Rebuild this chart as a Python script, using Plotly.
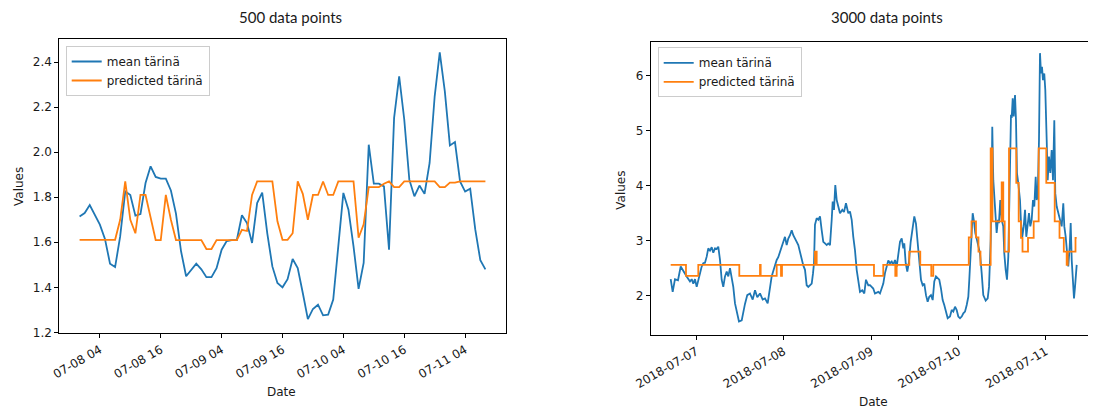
import pandas as pd
import plotly.graph_objects as go

# ---------------- data: left panel (hourly, 500 data points resampled) ----------------
left_start = "2018-07-08 00:00"
left_mean = [1.715, 1.73, 1.765, 1.72, 1.678, 1.615, 1.505, 1.49, 1.626, 1.826,
             1.81, 1.718, 1.725, 1.863, 1.937, 1.89, 1.883, 1.883, 1.83, 1.727,
             1.56, 1.449, 1.475, 1.505, 1.48, 1.445, 1.445, 1.485, 1.567, 1.605,
             1.61, 1.61, 1.72, 1.685, 1.597, 1.774, 1.82, 1.64, 1.493, 1.419,
             1.40, 1.436, 1.526, 1.486, 1.375, 1.259, 1.304, 1.323, 1.276, 1.279,
             1.346, 1.582, 1.819, 1.745, 1.582, 1.393, 1.508, 2.033, 1.86, 1.86,
             1.848, 1.567, 2.152, 2.336, 2.145, 1.878, 1.804, 1.852, 1.815, 1.952,
             2.248, 2.443, 2.27, 2.03, 2.045, 1.87, 1.825, 1.838, 1.657, 1.52, 1.48]
left_pred = [1.611, 1.611, 1.611, 1.611, 1.611, 1.611, 1.611, 1.611, 1.70, 1.87,
             1.70, 1.64, 1.81, 1.81, 1.71, 1.61, 1.61, 1.81, 1.70, 1.61,
             1.61, 1.61, 1.61, 1.61, 1.61, 1.57, 1.57, 1.61, 1.61, 1.61,
             1.61, 1.61, 1.655, 1.65, 1.81, 1.87, 1.87, 1.87, 1.87, 1.693,
             1.611, 1.611, 1.64, 1.87, 1.815, 1.70, 1.81, 1.81, 1.87, 1.81,
             1.81, 1.87, 1.87, 1.87, 1.87, 1.62, 1.68, 1.845, 1.845, 1.845,
             1.86, 1.87, 1.845, 1.845, 1.87, 1.87, 1.87, 1.87, 1.87, 1.87,
             1.87, 1.845, 1.845, 1.865, 1.865, 1.87, 1.87, 1.87, 1.87, 1.87, 1.87]
left_ticks = pd.date_range("2018-07-08 04:00", "2018-07-11 04:00", freq="12h")

# ---------------- data: right panel (3000 data points) ----------------
right_origin = "2018-07-07 00:00"
right_mean_hours = [
    -7.03, -6.48, -5.85, -5.02, -4.28, -3.65, -2.64, -1.73, -1.26, -0.82, -0.36, 0.11,
    0.55, 1.02, 1.48, 1.92, 2.39, 2.86, 3.29, 3.76, 4.23, 4.67, 5.13, 5.60, 6.04, 6.51,
    6.97, 7.41, 7.88, 8.35, 8.79, 9.25, 9.72, 10.16, 10.63, 11.26, 11.72, 12.47, 12.90,
    13.37, 14.00, 14.74, 15.49, 16.12, 16.75, 17.49, 18.23, 18.86, 19.60, 20.24, 20.70,
    21.14, 21.61, 22.08, 22.51, 22.98, 23.45, 23.89, 24.35, 24.82, 25.26, 25.73, 26.20,
    26.63, 27.10, 27.57, 28.01, 28.47, 28.94, 29.38, 29.85, 30.31, 30.75, 31.22, 31.69,
    32.04, 32.32, 32.59, 33.06, 33.50, 33.97, 34.43, 34.87, 35.34, 35.81, 36.24, 36.71,
    37.18, 37.45, 37.81, 38.17, 38.55, 38.99, 39.46, 40.09, 40.55, 41.10, 41.73, 42.20,
    42.67, 43.11, 43.57, 44.04, 44.48, 44.95, 45.58, 46.13, 46.59, 47.23, 47.69, 48.15,
    48.59, 49.06, 49.53, 49.97, 50.44, 50.91, 51.35, 51.81, 52.28, 52.72, 53.19, 53.66,
    54.09, 54.56, 55.03, 55.46, 55.93, 56.40, 56.84, 57.11, 57.50, 57.94, 58.40, 58.87,
    59.31, 59.86, 60.32, 60.79, 61.23, 61.70, 62.16, 62.60, 63.07, 63.53, 63.97, 64.44,
    64.91, 65.35, 65.81, 66.28, 66.72, 67.19, 67.65, 68.09, 68.56, 69.03, 69.66, 70.13,
    70.57, 71.04, 71.50, 71.94, 72.41, 72.88, 73.32, 73.78, 74.25, 74.69, 74.96, 75.34,
    75.62, 75.89, 76.25, 76.61, 77.07, 77.43, 77.90, 78.36, 78.80, 79.46, 80.01, 80.37,
    80.84, 81.11, 81.27, 81.55, 81.82, 82.19, 82.47, 82.82, 83.10, 83.47, 83.85, 84.29,
    84.57, 84.95, 85.31, 85.67, 85.94, 86.22, 86.41, 86.60, 86.88, 87.15, 87.51, 87.78,
    88.05, 88.41, 88.88, 89.15, 89.51, 89.90, 90.26, 90.61, 90.99, 91.35, 91.71, 92.09,
    92.45, 92.81, 93.19, 93.46, 93.74, 94.10, 94.37, 94.65, 94.92, 95.19, 95.55, 95.83,
    96.21, 96.49, 96.84, 97.20, 97.58, 97.94, 98.30, 98.57, 98.96, 99.40, 99.87, 100.33,
    100.77, 101.05, 101.43, 101.79, 102.14, 102.53, 102.80, 103.08, 103.44, 103.71,
    103.99, 104.26, 104.45]
right_mean_vals = [
    2.30, 2.07, 2.30, 2.28, 2.53, 2.45, 2.35, 2.26, 2.30, 2.22, 2.30, 2.16,
    2.30, 2.45, 2.53, 2.59, 2.60, 2.71, 2.86, 2.82, 2.88, 2.78, 2.86, 2.85, 2.89, 2.65,
    2.29, 2.16, 2.35, 2.44, 2.35, 2.50, 2.30, 2.16, 1.86, 1.68, 1.53, 1.55, 1.71,
    1.85, 2.01, 2.04, 1.93, 2.10, 1.97, 2.04, 1.93, 1.95, 1.86, 2.16, 2.35,
    2.45, 2.56, 2.65, 2.70, 2.80, 2.88, 2.98, 3.07, 2.92, 3.04, 3.10, 3.19,
    3.10, 3.05, 2.98, 2.92, 2.80, 2.65, 2.55, 2.47, 2.19, 2.16, 2.20, 2.22,
    2.40, 2.59, 3.29, 3.41, 3.38, 3.44, 3.19, 2.98, 2.95, 2.92, 2.95, 2.92,
    3.38, 3.71, 3.56, 4.01, 3.74, 3.62, 3.50, 3.56, 3.52, 3.68, 3.50, 3.53,
    3.38, 3.07, 2.83, 2.47, 2.29, 2.07, 2.10, 2.04, 2.29, 2.19, 2.19, 2.16,
    2.13, 2.04, 2.05, 2.07, 2.04, 2.13, 2.22, 2.41, 2.56, 2.64, 2.59, 2.62,
    2.56, 2.65, 2.53, 2.80, 2.98, 3.04, 2.86, 2.95, 2.59, 2.44, 2.62, 2.98,
    3.22, 3.44, 3.31, 2.95, 2.62, 2.29, 2.19, 2.22, 2.01, 1.89, 1.98, 2.01,
    1.92, 2.26, 2.35, 2.32, 2.29, 2.13, 1.92, 1.83, 1.71, 1.59, 1.62, 1.74,
    1.71, 1.80, 1.74, 1.62, 1.59, 1.62, 1.68, 1.71, 1.83, 1.98, 2.29, 2.77,
    3.22, 3.50, 3.35, 3.14, 3.01, 2.89, 2.77, 2.41, 2.01, 1.91, 1.95, 2.16,
    3.01, 4.04, 5.07, 4.10, 3.80, 3.38, 3.14, 3.38, 3.32, 3.74, 3.38, 3.26,
    2.77, 2.47, 2.29, 2.71, 3.50, 4.83, 5.29, 5.23, 5.59, 5.26, 5.65, 5.20,
    4.23, 4.04, 3.74, 3.34, 3.07, 3.26, 3.56, 3.07, 3.26, 3.50, 3.26, 3.38,
    3.74, 3.62, 4.16, 3.74, 3.80, 4.83, 6.41, 6.04, 6.16, 5.92, 6.04, 5.74,
    4.83, 4.10, 4.53, 4.23, 4.65, 4.10, 5.19, 3.86, 3.62, 3.50, 3.38, 3.26,
    3.68, 3.26, 3.07, 2.77, 2.53, 2.89, 3.32, 2.65, 2.16, 1.95,
    2.16, 2.53, 2.56]
right_pred_hours = [-7.03, -2.83, 0.55, 11.81, 17.49, 17.68, 22.08, 23.26, 23.53, 32.59,
                    33.06, 48.79, 51.34, 54.64, 55.02, 58.48, 61.50, 64.52, 65.07, 74.82,
                    75.56, 76.80, 77.48, 78.03, 80.83, 81.33, 83.85, 84.29, 84.68, 85.86,
                    87.86, 88.52, 89.15, 89.57, 91.08, 92.64, 94.01, 96.10, 98.41, 99.73,
                    100.91, 101.70, 101.98, 104.12, 104.45]
right_pred_vals = [2.56, 2.36, 2.56, 2.36, 2.56, 2.36, 2.56, 2.36, 2.56, 2.80,
                   2.56, 2.36, 2.56, 2.36, 2.56, 2.80, 2.56, 2.36, 2.56, 3.06,
                   3.35, 3.06, 2.80, 2.56, 4.68, 3.35, 4.06, 3.35, 2.80, 4.68,
                   4.05, 3.35, 3.05, 2.80, 3.05, 3.35, 4.68, 4.05, 3.35, 3.05,
                   2.80, 2.56, 2.80, 3.05, 3.05]
right_ticks = pd.date_range("2018-07-07", "2018-07-11", freq="D")

series_names = ["mean tärinä", "predicted tärinä"]
titles = ["500 data points", "3000 data points"]

# ---------------- build ----------------
BLUE, ORANGE = "#1f77b4", "#ff7f0e"
OFF = 8                      # the page body has an 8px margin
W, H = 1096 - OFF, 410 - OFF
FONT = "DejaVu Sans"

left_times = pd.date_range(left_start, periods=len(left_mean), freq="h")
origin = pd.Timestamp(right_origin)
r_mean_t = [origin + pd.Timedelta(hours=h) for h in right_mean_hours]
r_pred_t = [origin + pd.Timedelta(hours=h) for h in right_pred_hours]

fig = go.Figure()
fig.add_trace(go.Scatter(x=left_times, y=left_mean, name=series_names[0], mode="lines",
                         line=dict(color=BLUE, width=1.8), xaxis="x", yaxis="y", legend="legend"))
fig.add_trace(go.Scatter(x=left_times, y=left_pred, name=series_names[1], mode="lines",
                         line=dict(color=ORANGE, width=1.8), xaxis="x", yaxis="y", legend="legend"))
fig.add_trace(go.Scatter(x=r_mean_t, y=right_mean_vals, name=series_names[0], mode="lines",
                         line=dict(color=BLUE, width=1.8), xaxis="x2", yaxis="y2", legend="legend2"))
fig.add_trace(go.Scatter(x=r_pred_t, y=right_pred_vals, name=series_names[1], mode="lines",
                         line=dict(color=ORANGE, width=1.8, shape="hv"), xaxis="x2", yaxis="y2",
                         legend="legend2"))

axis_common = dict(showgrid=False, zeroline=False, showline=True, linecolor="#000000",
                   linewidth=1, ticks="outside", ticklen=4, tickwidth=1, tickcolor="#000000",
                   automargin=False,
                   tickfont=dict(family=FONT, size=12, color="#1a1a1a"))

def px_x(p):
    return (p - OFF) / W

def px_y(p):
    return 1 - (p - OFF) / H

fig.update_layout(
    width=W, height=H, autosize=False,
    margin=dict(l=0, r=0, t=0, b=0, pad=0),
    paper_bgcolor="white", plot_bgcolor="white",
    xaxis=dict(domain=[px_x(59.3), px_x(505.7)], anchor="y", type="date",
               range=["2018-07-07 20:00", "2018-07-11 12:00"],
               tickvals=list(left_ticks), tickformat="%m-%d %H", tickangle=-30,
               mirror=True, **axis_common),
    yaxis=dict(domain=[px_y(333.3), px_y(39.3)], anchor="x",
               range=[1.196, 2.501], tick0=1.2, dtick=0.2, tickformat=".1f",
               mirror=True, **axis_common),
    xaxis2=dict(domain=[px_x(650.7), 1.0], anchor="y2", type="date",
                range=["2018-07-06 11:29", "2018-07-11 13:45"],
                tickvals=list(right_ticks), tickformat="%Y-%m-%d", tickangle=-30,
                mirror=True, **axis_common),
    yaxis2=dict(domain=[px_y(335), px_y(41.7)], anchor="x2",
                range=[1.285, 6.618], tick0=2, dtick=1,
                mirror=False, **axis_common),
    legend=dict(x=px_x(65.7), y=px_y(46), xanchor="left", yanchor="top",
                bgcolor="rgba(255,255,255,0.8)", bordercolor="#cccccc", borderwidth=1,
                font=dict(family=FONT, size=12, color="#1a1a1a"), tracegroupgap=0),
    legend2=dict(x=px_x(657.7), y=px_y(47.3), xanchor="left", yanchor="top",
                 bgcolor="rgba(255,255,255,0.8)", bordercolor="#cccccc", borderwidth=1,
                 font=dict(family=FONT, size=12, color="#1a1a1a"), tracegroupgap=0),
    showlegend=True,
)

ann_font = dict(family=FONT, size=12, color="#1a1a1a")
title_font = dict(family="Lato, Liberation Sans", size=15, color="#1a1a1a")
annotations = [
    dict(text=titles[0], x=px_x(290.4), y=px_y(17), font=title_font),
    dict(text=titles[1], x=px_x(886.6), y=px_y(17), font=title_font),
    dict(text="Values", x=px_x(18.3), y=px_y(186.7), textangle=-90, font=ann_font),
    dict(text="Values", x=px_x(620.7), y=px_y(190), textangle=-90, font=ann_font),
    dict(text="Date", x=px_x(281.3), y=px_y(392), font=ann_font),
    dict(text="Date", x=px_x(873), y=px_y(401.7), font=ann_font),
]
for a in annotations:
    fig.add_annotation(xref="paper", yref="paper", showarrow=False,
                       xanchor="center", yanchor="middle", **a)

fig.write_html("out.html")
